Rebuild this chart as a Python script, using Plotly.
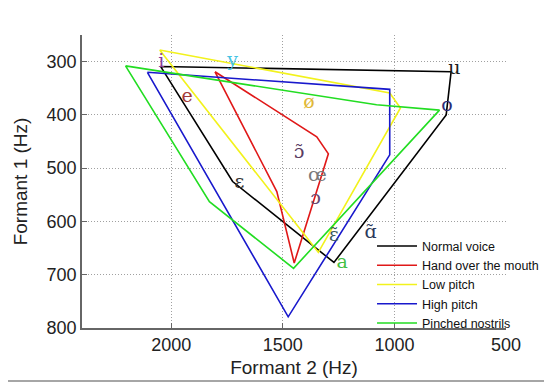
import plotly.graph_objects as go

# Formant polygons (F2 Hz, F1 Hz) per condition, closed
normal_f2 = [2048, 746, 768, 1271, 1725, 2048]
normal_f1 = [309, 319, 400, 677, 525, 309]

hand_f2 = [1804, 1348, 1296, 1449, 1527, 1804]
hand_f1 = [319, 441, 473, 678, 544, 319]

low_f2 = [2052, 1021, 973, 1341, 2052]
low_f1 = [278, 359, 387, 658, 278]

high_f2 = [2107, 1021, 1021, 1476, 2107]
high_f1 = [320, 352, 475, 779, 320]

pinch_f2 = [2205, 1080, 798, 1452, 1829, 2205]
pinch_f1 = [308, 381, 391, 688, 563, 308]

series_names = ["Normal voice", "Hand over the mouth", "Low pitch", "High pitch", "Pinched nostrils"]
series_colors = ["#000000", "#e01818", "#f2f21c", "#1818cc", "#22dd22"]

# Vowel labels
vowels = ["i", "y", "u", "e", "ø", "o", "ɛ", "\u0254\u0303", "œ", "ɔ", "\u025b\u0303", "\u0251\u0303", "a"]
vowel_f2 = [2045, 1725, 731, 1929, 1383, 765, 1695, 1427, 1345, 1353, 1271, 1107, 1234]
vowel_f1 = [302, 300, 315, 366, 378, 384, 528, 472, 516, 559, 628, 622, 679]
vowel_colors = ["#8a3c9a", "#45c4e4", "#202020", "#a33a3a", "#e0b838", "#2c2c78",
                "#303030", "#5a3c62", "#7a7a7a", "#6a4a72", "#3a5a5a", "#2c3a5c", "#44c044"]

xs = [normal_f2, hand_f2, low_f2, high_f2, pinch_f2]
ys = [normal_f1, hand_f1, low_f1, high_f1, pinch_f1]

fig = go.Figure()
for x, y, name, col in zip(xs, ys, series_names, series_colors):
    fig.add_trace(go.Scatter(x=x, y=y, mode="lines", name=name,
                             line=dict(color=col, width=1.6)))

fig.add_trace(go.Scatter(x=vowel_f2, y=vowel_f1, mode="text", text=vowels,
                         textfont=dict(family="DejaVu Serif, Liberation Serif, serif",
                                       size=19, color=vowel_colors),
                         showlegend=False, hoverinfo="skip"))

sans = "Liberation Sans, Arial, sans-serif"
axis_common = dict(showgrid=True, gridcolor="#a0a0a0", griddash="1px,2px", gridwidth=1,
                   showline=True, linecolor="#666666", linewidth=1.5,
                   ticks="inside", ticklen=5, tickcolor="#666666",
                   zeroline=False, mirror=False, automargin=False,
                   tickfont=dict(family=sans, size=18, color="#222222"))

fig.update_layout(
    width=552, height=382,
    margin=dict(l=74, r=54, t=27, b=62),
    paper_bgcolor="white", plot_bgcolor="white",
    xaxis=dict(range=[2400, 500], tickvals=[2000, 1500, 1000, 500],
               title=dict(text="Formant 2 (Hz)", standoff=6,
                          font=dict(family=sans, size=19, color="#222222")),
               **axis_common),
    yaxis=dict(range=[800, 250], tickvals=[300, 400, 500, 600, 700, 800],
               title=dict(text="Formant 1 (Hz)", standoff=14,
                          font=dict(family=sans, size=19, color="#222222")),
               **axis_common),
    legend=dict(x=0.684, y=0.33, xanchor="left", yanchor="top",
                bgcolor="rgba(0,0,0,0)", borderwidth=0, tracegroupgap=0,
                itemwidth=40,
                font=dict(family=sans, size=12.5, color="#111111")),
    showlegend=True,
)

fig.add_shape(type="line", xref="paper", yref="paper", x0=-0.18, x1=1.15, y0=-0.181, y1=-0.181,
              line=dict(color="#888888", width=1.5))

fig.write_html("out.html")
